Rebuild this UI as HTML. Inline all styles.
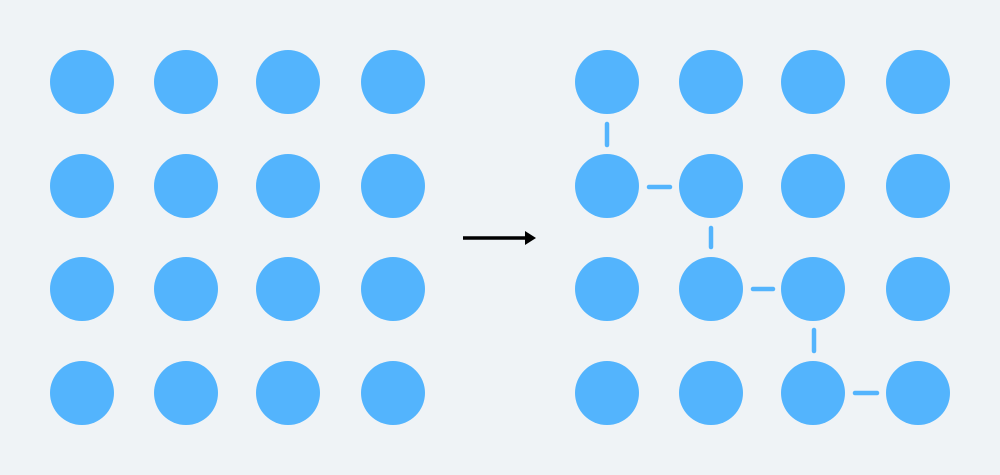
<!DOCTYPE html>
<html><head><meta charset="utf-8"><style>html,body{margin:0;padding:0;background:#eff3f6;}svg{display:block}</style></head>
<body>
<svg width="1000" height="475" viewBox="0 0 1000 475" xmlns="http://www.w3.org/2000/svg">
<rect width="1000" height="475" fill="#eff3f6"/>
<g fill="#53b4fd">
<circle cx="82" cy="82" r="32"/><circle cx="186" cy="82" r="32"/><circle cx="288" cy="82" r="32"/><circle cx="393" cy="82" r="32"/>
<circle cx="82" cy="186" r="32"/><circle cx="186" cy="186" r="32"/><circle cx="288" cy="186" r="32"/><circle cx="393" cy="186" r="32"/>
<circle cx="82" cy="289" r="32"/><circle cx="186" cy="289" r="32"/><circle cx="288" cy="289" r="32"/><circle cx="393" cy="289" r="32"/>
<circle cx="82" cy="393" r="32"/><circle cx="186" cy="393" r="32"/><circle cx="288" cy="393" r="32"/><circle cx="393" cy="393" r="32"/>
<circle cx="607" cy="82" r="32"/><circle cx="711" cy="82" r="32"/><circle cx="813" cy="82" r="32"/><circle cx="918" cy="82" r="32"/>
<circle cx="607" cy="186" r="32"/><circle cx="711" cy="186" r="32"/><circle cx="813" cy="186" r="32"/><circle cx="918" cy="186" r="32"/>
<circle cx="607" cy="289" r="32"/><circle cx="711" cy="289" r="32"/><circle cx="813" cy="289" r="32"/><circle cx="918" cy="289" r="32"/>
<circle cx="607" cy="393" r="32"/><circle cx="711" cy="393" r="32"/><circle cx="813" cy="393" r="32"/><circle cx="918" cy="393" r="32"/>
</g>
<g stroke="#53b4fd" stroke-width="4.5" stroke-linecap="round">
<line x1="607" y1="124" x2="607" y2="145"/>
<line x1="649" y1="187" x2="670" y2="187"/>
<line x1="711" y1="228" x2="711" y2="247"/>
<line x1="753" y1="289" x2="773" y2="289"/>
<line x1="814" y1="330" x2="814" y2="351"/>
<line x1="855" y1="393" x2="877" y2="393"/>
</g>
<line x1="463" y1="238" x2="527" y2="238" stroke="#000" stroke-width="3.5"/>
<polygon points="525,231 536,238 525,245" fill="#000"/>
</svg>
</body></html>
